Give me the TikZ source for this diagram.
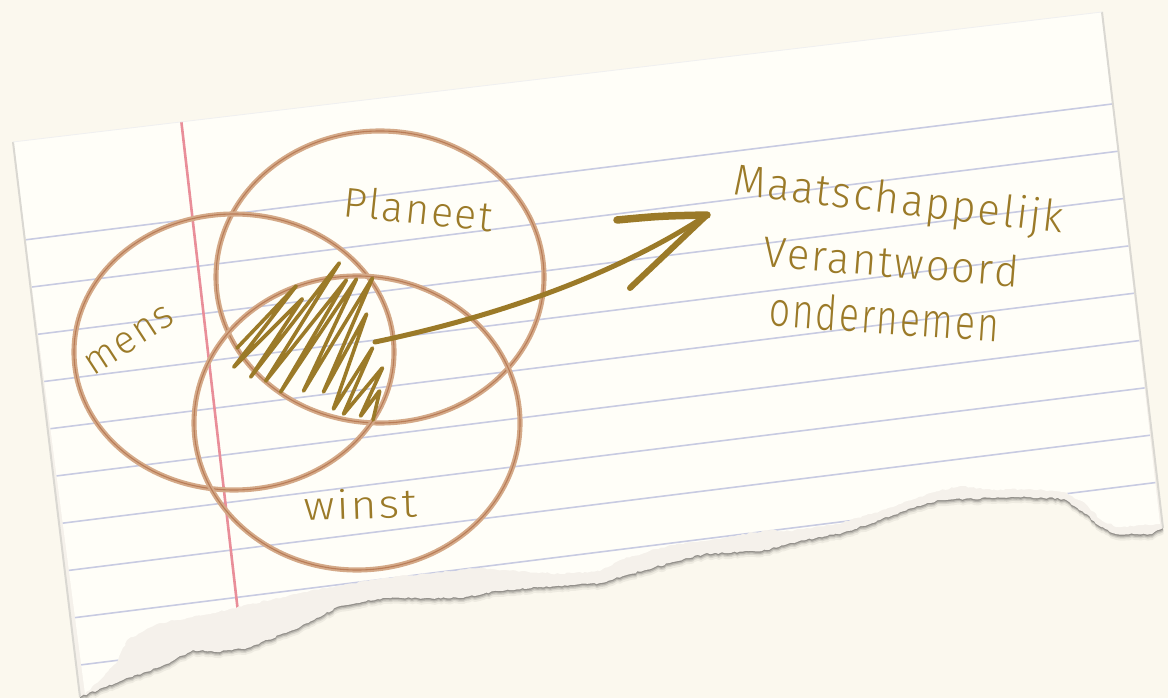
\documentclass[tikz,border=0pt]{standalone}
\usepackage{fontspec}
\usepackage{graphicx}
\newfontfamily\hand{Fira Sans Light}[LetterSpace=5]
\usetikzlibrary{decorations.pathmorphing,shapes.geometric}
\definecolor{bgc}{HTML}{FBF8EE}
\definecolor{paperc}{HTML}{FFFEF8}
\definecolor{stripc}{HTML}{F5F1EB}
\definecolor{bluel}{HTML}{C8CBE2}
\definecolor{redl}{HTML}{E98E99}
\definecolor{ink}{HTML}{9B7A28}
\definecolor{ringout}{HTML}{D4A988}
\definecolor{ringin}{HTML}{B97C57}
\definecolor{edgec}{HTML}{DAD8D2}
\pgfmathsetseed{7}
\begin{document}
\begin{tikzpicture}[x=1pt,y=-1pt,
  tear/.style={decoration={random steps,segment length=3pt,amplitude=0.9pt}},
  blueline/.style={draw=bluel,line width=1.6pt},
  redline/.style={draw=redl,line width=2.6pt},
  ring/.style={ellipse,draw=ringout,double=ringin,double distance=1.1pt,line width=2pt,inner sep=0pt},
  scrib/.style={draw=ink,line width=3.6pt,line join=round,line cap=round,rounded corners=2pt},
  arrowink/.style={draw=ink,line width=6pt,line cap=round},
  lab/.style={text=ink,anchor=base,inner sep=0pt,font=\hand}]
\useasboundingbox (0,0) rectangle (1168,698);
\fill[bgc] (0,0) rectangle (1168,698);
% paper outlines
\path[save path=\outerp] (13,142) -- (1102,12) -- (1163,528)
  decorate[tear]{ -- (1150,534) -- (1116,534) -- (1101,527) -- (1082,511) -- (1064,499)
  -- (1030,497) -- (992,498) -- (940,500) -- (917,506) -- (880,520) -- (842,533)
  -- (790,543) -- (767,550) -- (704,554) -- (655,567) -- (600,583) -- (540,587)
  -- (498,591) -- (459,598) -- (383,598) -- (340,606) -- (300,627) -- (247,648)
  -- (217,652) -- (193,650) -- (160,667) -- (123,680) -- (80,697)} -- cycle;
\path[save path=\facep] (13,142) -- (1102,12) -- (1160,524)
  decorate[tear]{ -- (1116,527) -- (1100,519) -- (1085,503) -- (1064,492) -- (1030,489)
  -- (992,490) -- (960,486) -- (930,493) -- (880,511) -- (842,523) -- (790,531)
  -- (767,530) -- (704,541) -- (670,545) -- (620,560) -- (600,571) -- (560,574)
  -- (478,568) -- (420,574) -- (383,578) -- (325,588) -- (300,593) -- (213,613)
  -- (160,623) -- (127,640) -- (118,660) -- (100,680) -- (85,694)} -- cycle;
% shadow
\begin{scope}[transform canvas={shift={(0.6pt,-6pt)}}]
  \fill[black,opacity=0.05,use path=\outerp];
\end{scope}
\begin{scope}[transform canvas={shift={(0.5pt,-4pt)}}]
  \fill[black,opacity=0.09,use path=\outerp];
\end{scope}
\begin{scope}[transform canvas={shift={(0.3pt,-2.6pt)}}]
  \fill[black,opacity=0.14,use path=\outerp];
\end{scope}
\begin{scope}[transform canvas={shift={(0pt,-1.3pt)}}]
  \fill[black,opacity=0.2,use path=\outerp];
\end{scope}
\fill[stripc,use path=\outerp];
\fill[paperc,use path=\facep];
% ruling
\begin{scope}
  \path[clip,use path=\facep];
  \foreach \k in {0,...,9}
    \draw[blueline] (0,{243+48*\k}) -- (1168,{97+48*\k});
  \draw[redline] (180,110) -- (238,612);
\end{scope}
\draw[edgec,line width=2pt] (13,142) -- (80,697);
\draw[edgec,line width=2pt] (1102,12) -- (1163,528);
\draw[black!6,line width=0.8pt] (13,142) -- (1102,12);
% venn rings
\node[ring,minimum width=328pt,minimum height=292pt] (planeetring) at (380,277) {};
\node[ring,minimum width=320pt,minimum height=276pt] (mensring) at (234,352) {};
\node[ring,minimum width=326pt,minimum height=294pt] (winstring) at (357,423) {};
% scribble
\draw[scrib] (237,348) -- (297,285) -- (233,368) -- (303,298) -- (250,378) -- (340,262)
  -- (265,382) -- (347,279) -- (280,393) -- (357,278) -- (303,392) -- (373,277)
  -- (323,393) -- (367,313) -- (333,410) -- (373,347) -- (343,415) -- (383,367)
  -- (360,417) -- (380,390) -- (373,420);
% arrow
\coordinate (astart) at (375,342);
\coordinate (atip) at (707,215);
\draw[arrowink,line width=5pt] (astart) .. controls (470,322) and (600,285) .. (atip);
\draw[arrowink,line width=7.5pt] (617,220) .. controls (660,216) .. (atip);
\draw[arrowink] (atip) -- (630,288);
% labels
\node[lab,rotate=-6] (planeet) at (417,224) {\resizebox{150pt}{31pt}{Planeet}};
\node[lab,rotate=33] (mens) at (135,349) {\resizebox{100pt}{21pt}{mens}};
\node[lab,rotate=2] (winst) at (361,519) {\resizebox{113pt}{30pt}{winst}};
\node[lab,rotate=-6.6] (maat) at (897,214) {\resizebox{332pt}{33pt}{Maatschappelijk}};
\node[lab,rotate=-4.5] (verant) at (890,277) {\resizebox{256pt}{32pt}{Verantwoord}};
\node[lab,rotate=-4] (onder) at (883,334) {\resizebox{230pt}{36pt}{ondernemen}};
\end{tikzpicture}
\end{document}
